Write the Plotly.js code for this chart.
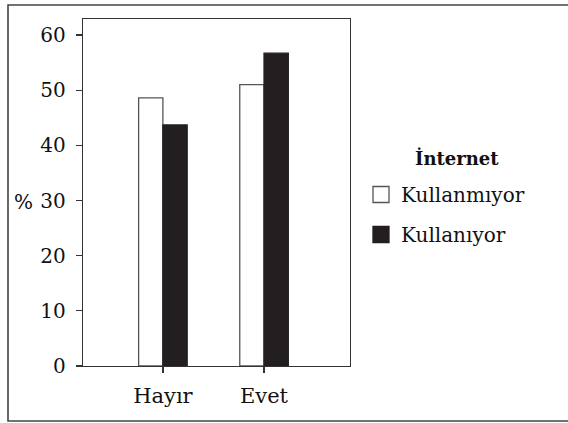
<!DOCTYPE html>
<html>
<head>
<meta charset="utf-8">
<script src="https://cdn.plot.ly/plotly-3.0.1.min.js"></script>
<style>html,body{margin:0;padding:0;background:#fff;}#chart{width:568px;height:423px;}</style>
</head>
<body>
<div id="chart"></div>
<script>
const categories = ["Hayır", "Evet"];
const seriesNames = ["Kullanmıyor", "Kullanıyor"];
const kullanmiyor = [48.6, 51.0];
const kullaniyor = [43.7, 56.7];
const yTicks = [0, 10, 20, 30, 40, 50, 60];
const legendTitle = "İnternet";
const yLabel = "%";

const FONT = "DejaVu Serif";
const seriesStyle = [
  {fill: "#ffffff", line: "#555555"},
  {fill: "#231f20", line: "#231f20"}
];
const seriesData = [kullanmiyor, kullaniyor];

const traces = [];
seriesData.forEach((vals, i) => {
  traces.push({
    type: "bar", name: seriesNames[i], x: categories, y: vals,
    marker: {color: seriesStyle[i].fill, line: {color: seriesStyle[i].line, width: 1.3}},
    showlegend: false, hoverinfo: "none"
  });
});
// legend entries (same data, on hidden clipped axes so only the legend swatch shows)
seriesData.forEach((vals, i) => {
  traces.push({
    type: "scatter", mode: "markers", name: seriesNames[i], x: categories, y: vals,
    xaxis: "x2", yaxis: "y2", legendgroup: "g" + i,
    marker: {symbol: "square", size: 20, color: seriesStyle[i].fill,
             line: {color: seriesStyle[i].line, width: 1.3}},
    hoverinfo: "none", cliponaxis: true
  });
});

const L = 83, T = 19, R = 350, B = 366, W = 568, H = 423;
const px = v => (v - L) / (R - L);
const py = v => (B - v) / (B - T);

const layout = {
  width: W, height: H,
  margin: {l: L, r: W - R, t: T, b: H - B, pad: 0},
  paper_bgcolor: "#ffffff", plot_bgcolor: "#ffffff",
  font: {family: FONT, color: "#111111", size: 20},
  barmode: "group", bargap: 0.52, bargroupgap: 0,
  showlegend: true,
  legend: {
    x: px(361), y: py(175), xanchor: "left", yanchor: "top",
    font: {family: FONT, size: 20},
    itemsizing: "trace",
    traceorder: "grouped", tracegroupgap: 11,
    bgcolor: "rgba(0,0,0,0)", borderwidth: 0
  },
  xaxis: {
    type: "category", range: [-0.79, 1.85],
    showline: true, linecolor: "#333333", linewidth: 1.3, mirror: true,
    ticks: "outside", ticklen: 6, tickcolor: "#333333", tickwidth: 1.3,
    ticklabelstandoff: 4,
    showgrid: false, zeroline: false, fixedrange: true,
    tickfont: {family: FONT, size: 21}
  },
  yaxis: {
    range: [0, 62.9], tickvals: yTicks,
    showline: true, linecolor: "#333333", linewidth: 1.3, mirror: true,
    ticks: "outside", ticklen: 6, tickcolor: "#333333", tickwidth: 1.3,
    ticklabelstandoff: 6,
    showgrid: false, zeroline: false, fixedrange: true,
    tickfont: {family: FONT, size: 20}
  },
  xaxis2: {overlaying: "x", visible: false, type: "category", range: [10, 11], fixedrange: true},
  yaxis2: {overlaying: "y", visible: false, range: [-20, -10], fixedrange: true},
  shapes: [
    {type: "rect", xref: "paper", yref: "paper",
     x0: px(8), x1: px(572), y0: py(421), y1: py(5),
     line: {color: "#444444", width: 1.6}, fillcolor: "rgba(0,0,0,0)", layer: "below"}
  ],
  annotations: [
    {text: yLabel, xref: "paper", yref: "paper", x: px(23), y: py(202),
     showarrow: false, xanchor: "center", yanchor: "middle",
     font: {family: FONT, size: 20}},
    {text: "<b>" + legendTitle + "</b>", xref: "paper", yref: "paper", x: px(457), y: py(158),
     showarrow: false, xanchor: "center", yanchor: "middle",
     font: {family: FONT, size: 18}}
  ]
};

Plotly.newPlot("chart", traces, layout, {displayModeBar: false, staticPlot: true});
</script>
</body>
</html>
